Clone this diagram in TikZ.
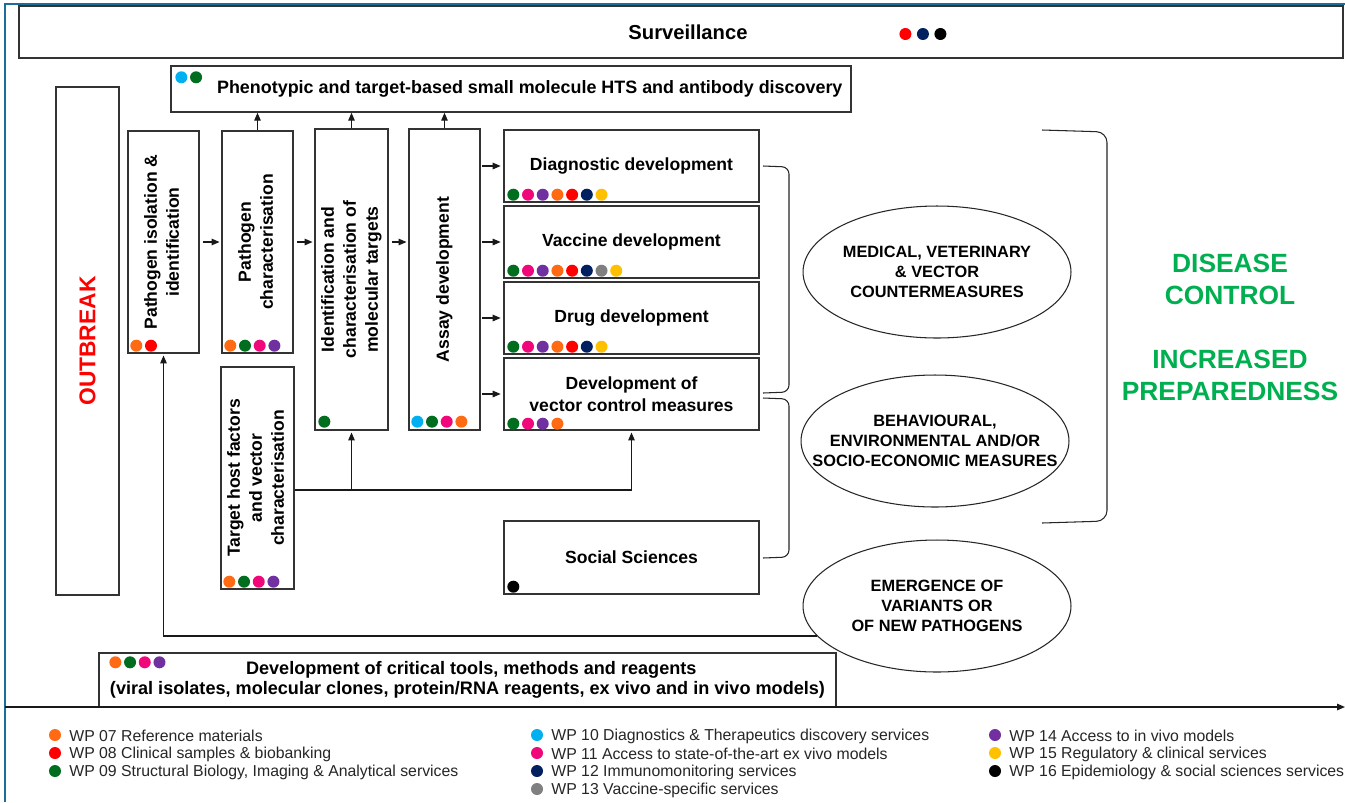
\documentclass[tikz,border=0pt]{standalone}
\usepackage{fontspec}
\setmainfont{Liberation Sans}
\usetikzlibrary{arrows.meta,positioning,calc,shapes.geometric}
\definecolor{wp07}{HTML}{FF6A13}
\definecolor{wp08}{HTML}{FF0000}
\definecolor{wp09}{HTML}{006E1E}
\definecolor{wp10}{HTML}{00B0F0}
\definecolor{wp11}{HTML}{F0087A}
\definecolor{wp12}{HTML}{002060}
\definecolor{wp13}{HTML}{808080}
\definecolor{wp14}{HTML}{7030A0}
\definecolor{wp15}{HTML}{FFC000}
\definecolor{wp16}{HTML}{000000}
\definecolor{goalgreen}{HTML}{00B050}
\definecolor{framblue}{HTML}{1B6E9B}
\tikzset{
  box/.style={draw=black!80, line width=0.8pt, fill=white, inner sep=2pt, align=center,
              font=\fontsize{10}{12.5}\selectfont\bfseries},
  stagebox/.style={box, minimum width=1.42cm, minimum height=4.44cm},
  tallbox/.style={box, minimum width=1.42cm, minimum height=6.02cm},
  devbox/.style={box, minimum width=5.1cm, minimum height=1.44cm},
  capsoval/.style={ellipse, draw=black!85, fill=white, line width=0.6pt, minimum width=5.36cm,
                   minimum height=2.64cm, align=center, inner xsep=-0.6cm, inner ysep=0pt,
                   font=\fontsize{9.3}{11.4}\selectfont\bfseries},
  arr/.style={-{Triangle[length=1.6mm,width=1.3mm]}, line width=0.7pt, draw=black!90},
  brk/.style={line width=0.6pt, draw=black!85, rounded corners=4pt},
  legend/.style={anchor=west, inner sep=0pt, text=black!85, font=\fontsize{9}{11}\selectfont}}
% vertical text inside an upright box
\newcommand{\vtext}[1]{\rotatebox{90}{\begin{tabular}{@{}c@{}}#1\end{tabular}}}
% row of work-package dots from a node anchor
\newcommand{\wpdots}[5][14.7]{%
  \foreach \c [count=\i from 0] in {#5} {\fill[\c] ($(#2)+(#3+\i*#1,#4)$) circle[radius=0.12cm];}}
\begin{document}
\begin{tikzpicture}[x=0.02cm, y=-0.02cm]
\useasboundingbox (0,0) rectangle (1345,802);
\fill[white] (0,0) rectangle (1345,802);
\coordinate (frameBL) at (5,802);
\coordinate (frameTL) at (5,4);
\coordinate (frameTR) at (1345,4);
\draw[framblue, line width=1.2pt] (frameBL) -- (frameTL) -- (frameTR);

% top bands
\node[box, minimum width=26.48cm, minimum height=1.04cm, font=\fontsize{11.5}{13}\selectfont\bfseries]
  (surv) at (681,32) {\hspace*{0.28cm}Surveillance};
\wpdots[17.5]{surv.west}{887}{2}{wp08,wp12,wp16}
\node[box, minimum width=13.6cm, minimum height=0.92cm, font=\fontsize{10.2}{12.5}\selectfont\bfseries]
  (pheno) at (511,89) {\hspace*{0.75cm}Phenotypic and target-based small molecule HTS and antibody discovery};
\wpdots{pheno.north west}{11}{12}{wp10,wp09}

% outbreak
\node[box, minimum width=1.26cm, minimum height=10.16cm, text=wp08,
      font=\fontsize{13}{15}\selectfont\bfseries] (outbreak) at (87.5,341) {\rotatebox{90}{OUTBREAK}};

% pipeline stages
\node[stagebox] (iso) at (163.5,242) {\vtext{Pathogen isolation \&\\identification}};
\node[stagebox] (pchar) at (257.5,242) {\vtext{Pathogen\\characterisation}};
\node[tallbox] (ident) at (351.5,279.5) {\vtext{Identification and\\characterisation of\\molecular targets}};
\node[tallbox] (assay) at (444.5,279.5) {\vtext{Assay development}};
\node[stagebox] (target) at (257.5,478) {\vtext{Target host factors\\and vector\\characterisation}};
\wpdots{iso.south west}{9}{-8}{wp07,wp08}
\wpdots{pchar.south west}{9}{-8}{wp07,wp09,wp11,wp14}
\wpdots{ident.south west}{10}{-9}{wp09}
\wpdots{assay.south west}{9}{-9}{wp10,wp09,wp11,wp07}
\wpdots{target.south west}{9}{-8}{wp07,wp09,wp11,wp14}

% development boxes
\node[devbox] (diag) at (631.5,166) {Diagnostic development};
\node[devbox] (vacc) at (631.5,242) {Vaccine development};
\node[devbox] (drug) at (631.5,318) {Drug development};
\node[devbox] (vect) at (631.5,394) {Development of\\vector control measures};
\node[devbox, minimum height=1.46cm] (soc) at (631.5,557.5) {Social Sciences};
\wpdots{diag.south west}{10}{-8}{wp09,wp11,wp14,wp07,wp08,wp12,wp15}
\wpdots{vacc.south west}{10}{-8}{wp09,wp11,wp14,wp07,wp08,wp12,wp13,wp15}
\wpdots{drug.south west}{10}{-8}{wp09,wp11,wp14,wp07,wp08,wp12,wp15}
\wpdots{vect.south west}{10}{-7}{wp09,wp11,wp14,wp07}
\wpdots{soc.south west}{10}{-8}{wp16}

% tools band
\node[box, minimum width=14.74cm, minimum height=1.08cm, font=\fontsize{10.3}{11.5}\selectfont\bfseries]
  (tools) at (467.5,680) {\hspace*{0.15cm}Development of critical tools, methods and reagents\\
  (viral isolates, molecular clones, protein/RNA reagents, ex vivo and in vivo models)};
\wpdots{tools.north west}{17}{10}{wp07,wp09,wp11,wp14}

% outcomes
\node[capsoval] (med) at (937,272) {MEDICAL, VETERINARY\\\& VECTOR\\COUNTERMEASURES};
\node[capsoval] (beh) at (935,441) {BEHAVIOURAL,\\ENVIRONMENTAL AND/OR\\SOCIO-ECONOMIC MEASURES};
\node[capsoval] (emer) at (937,606) {EMERGENCE OF\\VARIANTS OR\\OF NEW PATHOGENS};
\node[text=goalgreen, align=center, font=\fontsize{15}{18.2}\selectfont\bfseries] (goal) at (1230,327)
  {DISEASE\\CONTROL\\[0.64cm]INCREASED\\PREPAREDNESS};

% flow arrows
\draw[arr, shorten <=2pt, shorten >=1pt] (iso.east) -- (pchar.west);
\draw[arr, shorten <=2pt, shorten >=1pt] (pchar.east) -- (pchar.east -| ident.west);
\draw[arr, shorten <=2pt, shorten >=1pt] (pchar.east -| ident.east) -- (pchar.east -| assay.west);
\foreach \d in {diag,vacc,drug,vect}
  \draw[arr, shorten <=1pt, shorten >=1.5pt] (assay.east |- \d.west) -- (\d.west);
\foreach \s in {pchar,ident,assay}
  \draw[arr] (\s.north) -- (\s.north |- pheno.south);
\coordinate (tgtout) at ([yshift=-0.24cm]target.east);
\draw[arr, shorten >=1pt] (tgtout) -| (vect.south);
\draw[arr, shorten >=1pt] (tgtout -| ident.south) -- (ident.south);
\draw[arr, shorten >=1pt] (emer.194) -| (iso.south);

% brackets
\draw[brk] (763,166) -- (789,167) -- (789,392) -- (763,393);
\draw[brk] (763,398) -- (789,399) -- (789,557) -- (763,558);
\draw[brk, rounded corners=6pt] (1042,130) -- (1107,132) -- (1107,521) -- (1042,523);

% time axis
\coordinate (axL) at (5,707);
\coordinate (axR) at (1345,707);
\draw[arr, line width=0.8pt] (axL) -- (axR);

% legend
\foreach \col/\px/\py/\txt in {
  wp07/55/735/{WP 07 Reference materials},
  wp08/55/753/{WP 08 Clinical samples \& biobanking},
  wp09/55/771/{WP 09 Structural Biology, Imaging \& Analytical services},
  wp10/537/735/{WP 10 Diagnostics \& Therapeutics discovery services},
  wp11/537/753/{WP 11 Access to state-of-the-art ex vivo models},
  wp12/537/771/{WP 12 Immunomonitoring services},
  wp13/537/789/{WP 13 Vaccine-specific services},
  wp14/995/735/{WP 14 Access to in vivo models},
  wp15/995/753/{WP 15 Regulatory \& clinical services},
  wp16/995/771/{WP 16 Epidemiology \& social sciences services}}{
  \fill[\col] (\px,\py) circle[radius=0.12cm];
  \node[legend] (leg\col) at (\px+14,\py+1) {\txt};
}
\end{tikzpicture}
\end{document}
